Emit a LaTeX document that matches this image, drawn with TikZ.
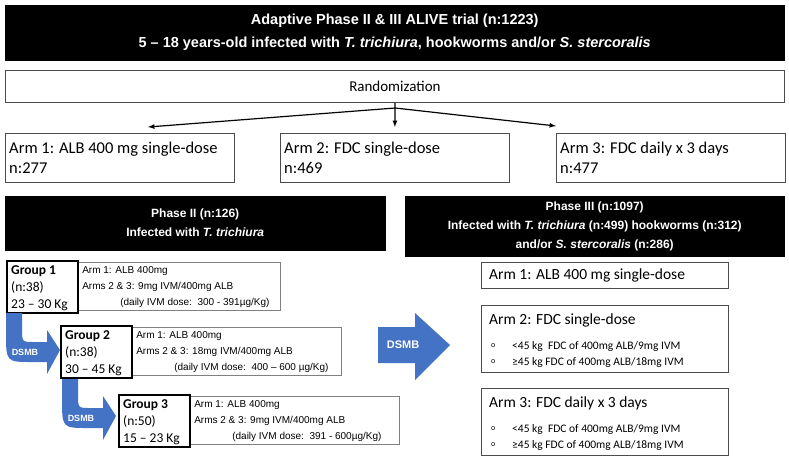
\documentclass[tikz,border=0pt]{standalone}
\usepackage{fontspec}
\setmainfont{Carlito}
\newfontfamily\arial{Liberation Sans}
\begin{document}
\begin{tikzpicture}[x=1pt,y=-1pt,
 blk/.style={draw=black,fill=black,text=white,font=\arial\bfseries\fontsize{12}{19}\selectfont,align=center,inner sep=0pt},
 wbox/.style={draw=black!70,line width=0.8pt,anchor=north west,inner sep=0pt},
 grp/.style={draw=black,line width=1.6pt,anchor=north west,inner sep=0pt,align=left,text width=60pt,font=\fontsize{13}{16}\selectfont},
 info/.style={draw=black!50,line width=0.6pt,anchor=north west,inner sep=0pt,align=left,font=\arial\fontsize{10}{16}\selectfont},
 ar/.style={-latex,line width=1.2pt},
 dtxt/.style={text=white,font=\arial\bfseries\fontsize{9}{10}\selectfont}]
\definecolor{bl}{HTML}{4472C4}
\useasboundingbox (0,0) rectangle (789,459);
\fill[white] (0,0) rectangle (789,459);
% title
\node[blk,minimum width=779pt,minimum height=55pt,anchor=north west,font=\arial\bfseries\fontsize{14.5}{23}\selectfont] (title) at (5,5) {Adaptive Phase II \& III ALIVE trial (n:1223)\\5 – 18 years-old infected with \textit{T. trichiura}, hookworms and/or \textit{S. stercoralis}};
\node[wbox,minimum width=779pt,minimum height=32pt] (rand) at (5,70) {};
\node at (rand.center) {\fontsize{15}{18}\selectfont Randomization};
\coordinate (rs) at (395,108);
\draw[line width=1.2pt] (rand.south) -- (rs);
% arms
\foreach \n/\x/\a/\b in {a1/5/{Arm 1: ALB 400 mg single-dose}/{n:277},a2/280/{Arm 2: FDC single-dose}/{n:469},a3/556/{Arm 3: FDC daily x 3 days}/{n:477}}{
 \node[wbox,minimum width=229pt,minimum height=49pt] (\n) at (\x,133) {};
 \node[anchor=west,align=left,font=\fontsize{16.5}{20}\selectfont,inner sep=0pt] at ([xshift=4pt]\n.west) {\a\\\b};
}
\draw[ar] (rs) -- ([xshift=143pt,yshift=6pt]a1.north west);
\draw[ar] (rs) -- ([yshift=6pt]a2.north);
\draw[ar] (rs) -- ([yshift=7pt]a3.north west);
% phase boxes
\node[blk,minimum width=380pt,minimum height=54pt,anchor=north west] (p2) at (5,196) {Phase II (n:126)\\Infected with \textit{T. trichiura}};
\node[blk,minimum width=379pt,minimum height=60pt,anchor=north west] (p3) at (405,196) {Phase III (n:1097)\\Infected with \textit{T. trichiura} (n:499) hookworms (n:312)\\and/or \textit{S. stercoralis} (n:286)};
% groups
\foreach \n/\x/\y/\g/\nn/\kg/\iw/\l/\d in {
 g1/6/260/1/38/{23 – 30 Kg}/203/{9mg}/{300 - 391µg/Kg},
 g2/60/325/2/38/{30 – 45 Kg}/210/{18mg}/{400 – 600 µg/Kg},
 g3/118/394/3/50/{15 – 23 Kg}/210/{9mg}/{391 - 600µg/Kg}}{
 \node[info,minimum width=\iw pt,minimum height=48pt] (i\n) at (\x+71,\y+2) {};
 \node[anchor=north west,info,draw=none,align=left] at (\x+76,\y+6) {Arm 1: ALB 400mg\\Arms 2 \& 3: \l\ IVM/400mg ALB\\\hspace*{38pt}(daily IVM dose:\ \ \d)};
 \node[grp,minimum width=71pt,minimum height=52pt] (\n) at (\x,\y) {};
 \node[anchor=north west,align=left,inner sep=0pt,font=\fontsize{13.5}{17}\selectfont] at (\x+5,\y+5) {\textbf{Group \g}\\(n:\nn)\\\kg};
}
% curved DSMB arrows
\foreach \dx/\dy/\s in {0/0/a,56/66/b}{
 \begin{scope}[shift={(\dx,\dy)}]
 \fill[bl] (6,313) -- (6,332) .. controls (6,362) .. (32,362) -- (47,362) -- (47,374) -- (60,350) -- (47,330) -- (47,342) -- (34,342) .. controls (22,342) .. (22,328) -- (22,313) -- cycle;
 \node[dtxt] (ds\s) at (25,352) {DSMB};
 \end{scope}
}
% big DSMB arrow
\fill[bl] (378,327) -- (415,327) -- (415,313) -- (450,345) -- (415,380) -- (415,363) -- (378,363) -- cycle;
\node[dtxt,font=\arial\bfseries\fontsize{11}{12}\selectfont] (dsb) at (403,345) {DSMB};
% right arms
\node[wbox,minimum width=247pt,minimum height=26pt] (r1) at (481,262) {};
\node[anchor=west,inner sep=0pt,font=\fontsize{15.5}{19}\selectfont] at (489,275) {Arm 1: ALB 400 mg single-dose};
\foreach \n/\y/\t in {r2/305/{Arm 2: FDC single-dose},r3/388/{Arm 3: FDC daily x 3 days}}{
 \node[wbox,minimum width=247pt,minimum height=67pt] (\n) at (481,\y) {};
 \node[anchor=west,inner sep=0pt,font=\fontsize{15.5}{19}\selectfont] at (489,\y+15) {\t};
 \node[anchor=west,inner sep=0pt,font=\fontsize{8}{10}\selectfont] at (491,\y+41) {o};
 \node[anchor=west,inner sep=0pt,font=\fontsize{8}{10}\selectfont] at (491,\y+57) {o};
 \node[anchor=west,inner sep=0pt,font=\fontsize{11.5}{14}\selectfont] at (512,\y+41) {<45 kg\ \ FDC of 400mg ALB/9mg IVM};
 \node[anchor=west,inner sep=0pt,font=\fontsize{11.5}{14}\selectfont] at (512,\y+57) {≥45 kg FDC of 400mg ALB/18mg IVM};
}
\end{tikzpicture}
\end{document}
